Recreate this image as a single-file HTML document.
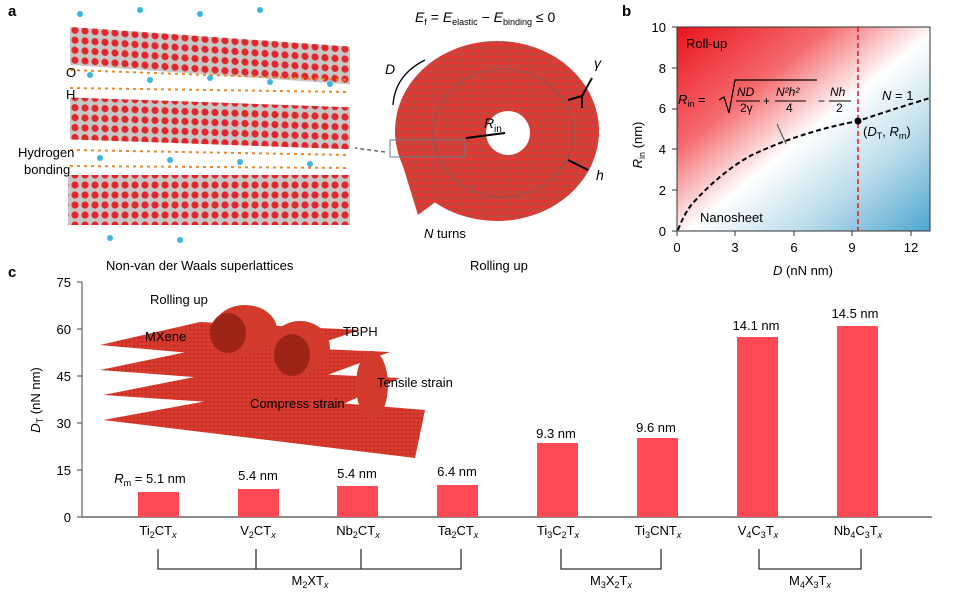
<!DOCTYPE html>
<html><head><meta charset="utf-8"><style>
body{margin:0;background:#fff}
svg{display:block;font-family:"Liberation Sans",sans-serif}
</style></head><body>
<svg width="969" height="603" viewBox="0 0 969 603" xmlns="http://www.w3.org/2000/svg">
<defs>
<linearGradient id="bg" x1="0" y1="0" x2="1" y2="1">
<stop offset="0" stop-color="#e8141c"/><stop offset="0.3" stop-color="#f56a6e"/>
<stop offset="0.52" stop-color="#fff"/><stop offset="0.75" stop-color="#b8dbea"/><stop offset="1" stop-color="#4ea6cf"/>
</linearGradient>
<pattern id="dots" width="10" height="10" patternUnits="userSpaceOnUse">
<rect width="10" height="10" fill="#c9c6c6"/><circle cx="5" cy="5" r="3.6" fill="#e0282c"/>
</pattern>
<pattern id="sdots" width="6" height="6" patternUnits="userSpaceOnUse">
<rect width="6" height="6" fill="#b84a40"/><circle cx="3" cy="3" r="2.3" fill="#f0322e"/>
</pattern>
<pattern id="sheet" width="4" height="4" patternUnits="userSpaceOnUse">
<rect width="4" height="4" fill="#d93a2e"/><circle cx="2" cy="2" r="1" fill="#b92a20"/>
</pattern>
</defs>
<text x="8" y="16" font-size="15" font-weight="bold">a</text>
<text x="622" y="16" font-size="15" font-weight="bold">b</text>
<text x="8" y="277" font-size="15" font-weight="bold">c</text>

<g>
<rect x="70" y="22" width="280" height="38" fill="url(#dots)" transform="skewY(4)"/>
<rect x="70" y="95" width="280" height="42" fill="url(#dots)" transform="skewY(2)"/>
<rect x="68" y="175" width="282" height="50" fill="url(#dots)"/>
<g stroke="#e88a2a" stroke-width="2" stroke-dasharray="3 4">
<line x1="70" y1="70" x2="350" y2="80"/><line x1="70" y1="88" x2="350" y2="92"/>
<line x1="70" y1="150" x2="350" y2="155"/><line x1="70" y1="166" x2="350" y2="168"/>
</g>
<g fill="#3fb6dc"><circle cx="90" cy="75" r="3"/><circle cx="150" cy="80" r="3"/><circle cx="210" cy="78" r="3"/><circle cx="270" cy="82" r="3"/><circle cx="330" cy="84" r="3"/>
<circle cx="100" cy="158" r="3"/><circle cx="170" cy="160" r="3"/><circle cx="240" cy="162" r="3"/><circle cx="310" cy="164" r="3"/>
<circle cx="80" cy="14" r="3"/><circle cx="140" cy="10" r="3"/><circle cx="200" cy="14" r="3"/><circle cx="260" cy="10" r="3"/><circle cx="180" cy="240" r="3"/><circle cx="110" cy="238" r="3"/></g>
</g>
<text x="66" y="77" font-size="13">O</text>
<text x="66" y="99" font-size="13">H</text>
<text x="18" y="157" font-size="13">Hydrogen</text>
<text x="24" y="174" font-size="13">bonding</text>
<text x="106" y="270" font-size="13">Non-van der Waals superlattices</text>
<line x1="385" y1="152" x2="355" y2="148" stroke="#667" stroke-dasharray="4 3" stroke-width="1.5"/>

<!-- spiral roll -->
<path d="M398 150 L418 215 L445 195 Z" fill="url(#sdots)"/>
<ellipse cx="497" cy="131" rx="102" ry="90" fill="url(#sdots)"/>
<ellipse cx="503" cy="133" rx="70" ry="64" fill="none" stroke="#7a5a5a" stroke-width="1.5" opacity="0.6"/>
<circle cx="508" cy="133" r="22" fill="#fff"/>
<rect x="390" y="140" width="75" height="17" fill="none" stroke="#6a7a8c" stroke-width="1"/>
<text x="484" y="128" font-size="14" font-style="italic">R</text><text x="494" y="132" font-size="10">in</text>
<line x1="505" y1="133" x2="466" y2="138" stroke="#000" stroke-width="2"/>
<path d="M425 60 Q395 75 393 105" fill="none" stroke="#000" stroke-width="1.3"/>
<text x="385" y="74" font-size="14" font-style="italic">D</text>
<path d="M568 100 L582 96 L592 78 M582 96 L582 108" fill="none" stroke="#000" stroke-width="2"/>
<text x="594" y="68" font-size="14" font-style="italic">γ</text>
<line x1="568" y1="160" x2="588" y2="170" stroke="#000" stroke-width="2"/>
<text x="596" y="180" font-size="14" font-style="italic">h</text>
<text x="424" y="238" font-size="13"><tspan font-style="italic">N</tspan> turns</text>
<text x="470" y="270" font-size="13">Rolling up</text>
<text x="415" y="22" font-size="14"><tspan font-style="italic">E</tspan><tspan font-size="9" dy="3">f</tspan><tspan dy="-3"> = </tspan><tspan font-style="italic">E</tspan><tspan font-size="9" dy="3">elastic</tspan><tspan dy="-3"> − </tspan><tspan font-style="italic">E</tspan><tspan font-size="9" dy="3">binding</tspan><tspan dy="-3"> ≤ 0</tspan></text>

<!-- panel b -->
<rect x="677" y="27" width="253" height="204" fill="url(#bg)" stroke="#333" stroke-width="1"/>
<line x1="858" y1="27" x2="858" y2="231" stroke="#e41a1c" stroke-width="1.5" stroke-dasharray="5 3"/>
<path d="M678 230 Q684 214 692 204 Q720 173 750 156 Q800 132 858 121 Q900 107 930 98" fill="none" stroke="#000" stroke-width="2" stroke-dasharray="5 3"/>
<circle cx="858" cy="121" r="3.5" fill="#000"/>
<line x1="786" y1="144" x2="777" y2="124" stroke="#566" stroke-width="1.2"/>
<text x="686" y="48" font-size="13">Roll-up</text>
<text x="700" y="222" font-size="13">Nanosheet</text>
<text x="882" y="100" font-size="13"><tspan font-style="italic">N</tspan> = 1</text>
<text x="863" y="136" font-size="13">(<tspan font-style="italic">D</tspan><tspan font-size="9" dy="3">T</tspan><tspan dy="-3">, </tspan><tspan font-style="italic">R</tspan><tspan font-size="9" dy="3">m</tspan><tspan dy="-3">)</tspan></text>
<text x="678" y="104" font-size="13" font-style="italic">R<tspan font-size="9" font-style="normal" dy="3">in</tspan><tspan font-style="normal" dy="-3"> =</tspan></text>
<path d="M719 100 L724 97 L729 113 L735 80 L817 80" fill="none" stroke="#000" stroke-width="1.2"/>
<text x="737" y="96" font-size="12" font-style="italic">ND</text><line x1="736" y1="101" x2="760" y2="101" stroke="#000"/><text x="740" y="112" font-size="12">2γ</text>
<text x="763" y="105" font-size="12">+</text>
<text x="776" y="96" font-size="12" font-style="italic">N²h²</text><line x1="775" y1="101" x2="806" y2="101" stroke="#000"/><text x="786" y="112" font-size="12">4</text>
<text x="818" y="105" font-size="12">−</text>
<text x="830" y="96" font-size="12" font-style="italic">Nh</text><line x1="829" y1="101" x2="851" y2="101" stroke="#000"/><text x="836" y="112" font-size="12">2</text>
<g font-size="13" text-anchor="end">
<text x="666" y="32">10</text><text x="666" y="73">8</text><text x="666" y="113">6</text><text x="666" y="154">4</text><text x="666" y="195">2</text><text x="666" y="236">0</text></g>
<g stroke="#333"><line x1="672" y1="27" x2="677" y2="27"/><line x1="672" y1="68" x2="677" y2="68"/><line x1="672" y1="109" x2="677" y2="109"/><line x1="672" y1="149" x2="677" y2="149"/><line x1="672" y1="190" x2="677" y2="190"/><line x1="672" y1="231" x2="677" y2="231"/>
<line x1="677" y1="231" x2="677" y2="236"/><line x1="735" y1="231" x2="735" y2="236"/><line x1="794" y1="231" x2="794" y2="236"/><line x1="852" y1="231" x2="852" y2="236"/><line x1="911" y1="231" x2="911" y2="236"/></g>
<g font-size="13" text-anchor="middle"><text x="677" y="252">0</text><text x="735" y="252">3</text><text x="794" y="252">6</text><text x="852" y="252">9</text><text x="911" y="252">12</text></g>
<text x="803" y="275" font-size="13" text-anchor="middle"><tspan font-style="italic">D</tspan> (nN nm)</text>
<text transform="translate(642 145) rotate(-90)" font-size="13" text-anchor="middle"><tspan font-style="italic">R</tspan><tspan font-size="9" dy="3">in</tspan><tspan dy="-3"> (nm)</tspan></text>

<!-- panel c axes -->
<line x1="82" y1="282" x2="82" y2="517" stroke="#444"/>
<line x1="82" y1="517" x2="932" y2="517" stroke="#666" stroke-width="1.5"/>
<g stroke="#444"><line x1="77" y1="282" x2="82" y2="282"/><line x1="77" y1="329" x2="82" y2="329"/><line x1="77" y1="376" x2="82" y2="376"/><line x1="77" y1="423" x2="82" y2="423"/><line x1="77" y1="470" x2="82" y2="470"/><line x1="77" y1="517" x2="82" y2="517"/></g>
<g font-size="13" text-anchor="end"><text x="71" y="287">75</text><text x="71" y="334">60</text><text x="71" y="381">45</text><text x="71" y="428">30</text><text x="71" y="475">15</text><text x="71" y="522">0</text></g>
<text transform="translate(40 400) rotate(-90)" font-size="13" text-anchor="middle"><tspan font-style="italic">D</tspan><tspan font-size="9" dy="3">T</tspan><tspan dy="-3"> (nN nm)</tspan></text>

<polygon points="100,345 200,322 360,330 270,360" fill="url(#sheet)"/>
<polygon points="100,370 220,345 390,352 300,385" fill="url(#sheet)"/>
<polygon points="103,395 230,370 400,378 330,410" fill="url(#sheet)"/>
<polygon points="103,420 240,395 425,410 415,458" fill="url(#sheet)"/>
<ellipse cx="245" cy="330" rx="32" ry="25" fill="#d23a2c"/><ellipse cx="228" cy="333" rx="18" ry="20" fill="#9e2418"/>
<ellipse cx="300" cy="348" rx="30" ry="27" fill="#d23a2c"/><ellipse cx="292" cy="355" rx="18" ry="21" fill="#9e2418"/>
<ellipse cx="372" cy="385" rx="16" ry="34" fill="#d23a2c"/>
<text x="150" y="304" font-size="13">Rolling up</text>
<text x="145" y="341" font-size="13">MXene</text>
<text x="343" y="336" font-size="13">TBPH</text>
<text x="377" y="387" font-size="13">Tensile strain</text>
<text x="250" y="408" font-size="13">Compress strain</text>

<g fill="#ff4a55">
<rect x="138" y="492" width="41" height="25"/><rect x="238" y="489" width="41" height="28"/>
<rect x="337" y="486" width="41" height="31"/><rect x="437" y="485" width="41" height="32"/>
<rect x="537" y="443" width="41" height="74"/><rect x="637" y="438" width="41" height="79"/>
<rect x="737" y="337" width="41" height="180"/><rect x="837" y="326" width="41" height="191"/></g>
<g font-size="13" text-anchor="middle">
<text x="150" y="483"><tspan font-style="italic">R</tspan><tspan font-size="9" dy="3">m</tspan><tspan dy="-3"> = 5.1 nm</tspan></text>
<text x="258" y="480">5.4 nm</text><text x="357" y="478">5.4 nm</text><text x="457" y="476">6.4 nm</text>
<text x="556" y="438">9.3 nm</text><text x="656" y="432">9.6 nm</text><text x="756" y="330">14.1 nm</text><text x="855" y="318">14.5 nm</text>
<text x="158" y="535">Ti<tspan font-size="9" dy="3">2</tspan><tspan dy="-3">CT</tspan><tspan font-size="9" dy="3" font-style="italic">x</tspan></text>
<text x="258" y="535">V<tspan font-size="9" dy="3">2</tspan><tspan dy="-3">CT</tspan><tspan font-size="9" dy="3" font-style="italic">x</tspan></text>
<text x="358" y="535">Nb<tspan font-size="9" dy="3">2</tspan><tspan dy="-3">CT</tspan><tspan font-size="9" dy="3" font-style="italic">x</tspan></text>
<text x="458" y="535">Ta<tspan font-size="9" dy="3">2</tspan><tspan dy="-3">CT</tspan><tspan font-size="9" dy="3" font-style="italic">x</tspan></text>
<text x="558" y="535">Ti<tspan font-size="9" dy="3">3</tspan><tspan dy="-3">C</tspan><tspan font-size="9" dy="3">2</tspan><tspan dy="-3">T</tspan><tspan font-size="9" dy="3" font-style="italic">x</tspan></text>
<text x="658" y="535">Ti<tspan font-size="9" dy="3">3</tspan><tspan dy="-3">CNT</tspan><tspan font-size="9" dy="3" font-style="italic">x</tspan></text>
<text x="758" y="535">V<tspan font-size="9" dy="3">4</tspan><tspan dy="-3">C</tspan><tspan font-size="9" dy="3">3</tspan><tspan dy="-3">T</tspan><tspan font-size="9" dy="3" font-style="italic">x</tspan></text>
<text x="858" y="535">Nb<tspan font-size="9" dy="3">4</tspan><tspan dy="-3">C</tspan><tspan font-size="9" dy="3">3</tspan><tspan dy="-3">T</tspan><tspan font-size="9" dy="3" font-style="italic">x</tspan></text>
<text x="310" y="585">M<tspan font-size="9" dy="3">2</tspan><tspan dy="-3">XT</tspan><tspan font-size="9" dy="3" font-style="italic">x</tspan></text>
<text x="611" y="585">M<tspan font-size="9" dy="3">3</tspan><tspan dy="-3">X</tspan><tspan font-size="9" dy="3">2</tspan><tspan dy="-3">T</tspan><tspan font-size="9" dy="3" font-style="italic">x</tspan></text>
<text x="810" y="585">M<tspan font-size="9" dy="3">4</tspan><tspan dy="-3">X</tspan><tspan font-size="9" dy="3">3</tspan><tspan dy="-3">T</tspan><tspan font-size="9" dy="3" font-style="italic">x</tspan></text>
</g>
<g fill="none" stroke="#333" stroke-width="1.3">
<path d="M158 549 V569 H461 V549 M256 549 V569 M361 549 V569"/>
<path d="M561 549 V569 H661 V549"/>
<path d="M759 549 V569 H861 V549"/>
</g>
</svg>
</body></html>
